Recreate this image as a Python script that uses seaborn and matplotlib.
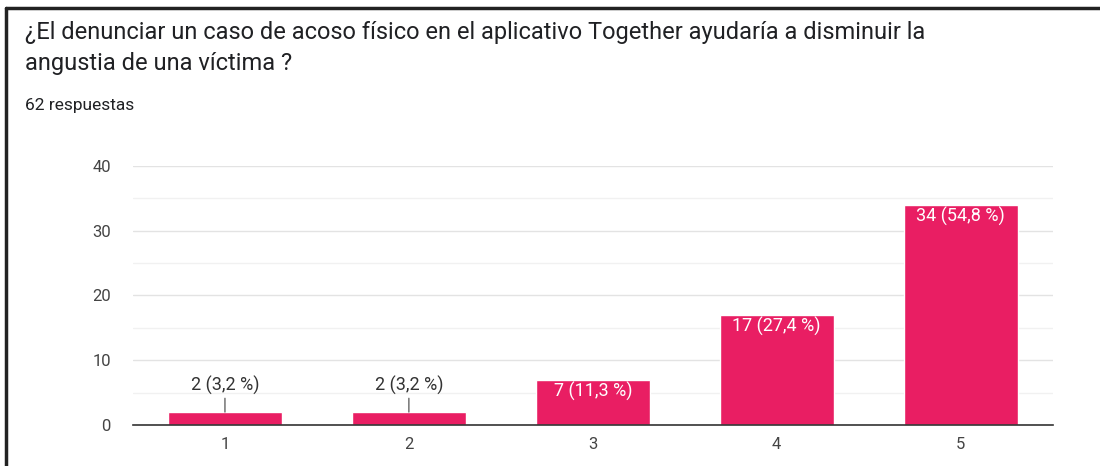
import numpy as np
import pandas as pd
import matplotlib.pyplot as plt
import seaborn as sns
from matplotlib.lines import Line2D

# Survey results
answers = ['1', '2', '3', '4', '5']
counts = [2, 2, 7, 17, 34]
labels = ['2 (3,2 %)', '2 (3,2 %)', '7 (11,3 %)', '17 (27,4 %)', '34 (54,8 %)']
title_lines = ['¿El denunciar un caso de acoso físico en el aplicativo Together ayudaría a disminuir la',
               'angustia de una víctima ?']
subtitle = '62 respuestas'

df = pd.DataFrame({'answer': answers, 'count': counts})

sns.set_style('white')
plt.rcParams['font.family'] = ['Roboto', 'DejaVu Sans']

fig = plt.figure(figsize=(11, 4.66), dpi=100)
ax = fig.add_axes([0.1209, 0.088, 0.836, 0.556])

pink = '#E91E63'
sns.barplot(data=df, x='answer', y='count', color=pink, width=0.62,
            saturation=1, ax=ax, zorder=3)

ax.set_ylim(0, 40)
ax.set_yticks([0, 10, 20, 30, 40])
ax.set_yticks([5, 15, 25, 35], minor=True)
ax.grid(axis='y', which='major', color='#e3e3e3', linewidth=1, zorder=0)
ax.grid(axis='y', which='minor', color='#f1f1f1', linewidth=1, zorder=0)
ax.set_xlabel('')
ax.set_ylabel('')
for s in ['top', 'right', 'left']:
    ax.spines[s].set_visible(False)
ax.spines['bottom'].set_color('#333333')
ax.spines['bottom'].set_linewidth(1.2)
ax.spines['bottom'].set_zorder(4)
ax.tick_params(axis='both', which='both', length=0, labelsize=12, colors='#444444')
ax.tick_params(axis='y', pad=16)
ax.tick_params(axis='x', pad=9)

# value labels: outside with leader line for small bars, inside in white otherwise
for i, (c, lab) in enumerate(zip(counts, labels)):
    if c < 5:
        ax.annotate(lab, xy=(i, c), xytext=(0, 17), textcoords='offset pixels',
                    ha='center', va='bottom', fontsize=13, color='#333333',
                    arrowprops=dict(arrowstyle='-', color='#666666', lw=1,
                                    shrinkA=0, shrinkB=0))
    else:
        ax.annotate(lab, xy=(i, c), xytext=(0, -12), textcoords='offset pixels',
                    ha='center', va='center', fontsize=13, color='white')

fig.text(25 / 1100, 1 - 39 / 466, title_lines[0], fontsize=17, color='#202124', va='baseline')
fig.text(25 / 1100, 1 - 70 / 466, title_lines[1], fontsize=17, color='#202124', va='baseline')
fig.text(25 / 1100, 1 - 110 / 466, subtitle, fontsize=12.5, color='#202124', va='baseline')

# screenshot frame (top and left edges)
fig.add_artist(Line2D([0.0055, 1], [0.983, 0.983], color='#222222', lw=2.5))
fig.add_artist(Line2D([0.0055, 0.0055], [0, 0.983], color='#222222', lw=2.5))

fig.savefig('out.png', dpi=100)
